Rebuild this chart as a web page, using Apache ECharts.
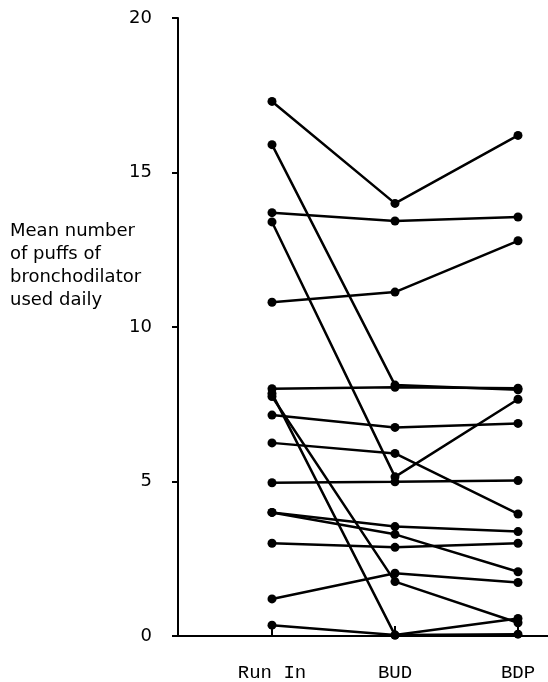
<!DOCTYPE html>
<html><head><meta charset="utf-8">
<script src="https://cdn.jsdelivr.net/npm/echarts@6/dist/echarts.min.js"></script>
<style>html,body{margin:0;padding:0;background:#fff}#c{width:548px;height:682px}</style>
</head><body><div id="c"></div>
<script>
var categories = ['Run In', 'BUD', 'BDP'];
var yTicks = [0, 5, 10, 15, 20];
// one entry per subject
var runIn = [17.3, 15.9, 13.7, 13.4, 10.8, 8.0, 7.85, 7.75, 7.15, 6.25, 4.96, 4.0, 4.0, 3.0, 1.2, 0.35];
var bud   = [14.0, 8.12, 13.43, 5.15, 11.13, 8.05, 0.03, 1.76, 6.75, 5.91, 4.99, 3.54, 3.29, 2.87, 2.03, 0.03];
var bdp   = [16.2, 7.97, 13.56, 7.66, 12.79, 8.02, 0.57, 0.43, 6.88, 3.95, 5.03, 3.38, 2.08, 3.0, 1.73, 0.06];

var series = runIn.map(function (v, i) {
  return {
    type: 'line', xAxisIndex: 1, yAxisIndex: 1,
    data: [v, bud[i], bdp[i]],
    symbol: 'circle', symbolSize: 9,
    itemStyle: { color: '#000' },
    lineStyle: { color: '#000', width: 2.5 },
    emphasis: { disabled: true }
  };
});

var chart = echarts.init(document.getElementById('c'));
chart.setOption({
  animation: false,
  backgroundColor: '#fff',
  grid: [
    { left: 178, right: 0, top: 18, bottom: 46 },
    { left: 272, right: 30, top: 18, bottom: 46 }
  ],
  xAxis: [
    { type: 'value', gridIndex: 0, min: 0, max: 1,
      axisLine: { show: true, onZero: false, lineStyle: { color: '#000', width: 2 } },
      axisTick: { show: false }, axisLabel: { show: false }, splitLine: { show: false } },
    { type: 'category', gridIndex: 1, data: categories, boundaryGap: false,
      axisLine: { show: false },
      axisTick: { show: true, inside: true, length: 10, lineStyle: { color: '#000', width: 2 } },
      axisLabel: { margin: 27, color: '#000', fontFamily: 'Liberation Mono', fontSize: 19 },
      splitLine: { show: false } }
  ],
  yAxis: [
    { type: 'value', gridIndex: 0, min: yTicks[0], max: yTicks[yTicks.length - 1], interval: 5,
      axisLine: { show: true, lineStyle: { color: '#000', width: 2 } },
      axisTick: { show: true, length: 6, lineStyle: { color: '#000', width: 2 } },
      axisLabel: { margin: 26, color: '#000', fontFamily: 'DejaVu Sans', fontSize: 18 },
      splitLine: { show: false } },
    { type: 'value', gridIndex: 1, min: 0, max: 20, show: false }
  ],
  graphic: [{
    type: 'text', left: 10, top: 220,
    style: {
      text: 'Mean number\nof puffs of\nbronchodilator\nused daily',
      font: '18px "DejaVu Sans"', lineHeight: 23, fill: '#000'
    }
  }],
  series: series
});
</script>
</body></html>
